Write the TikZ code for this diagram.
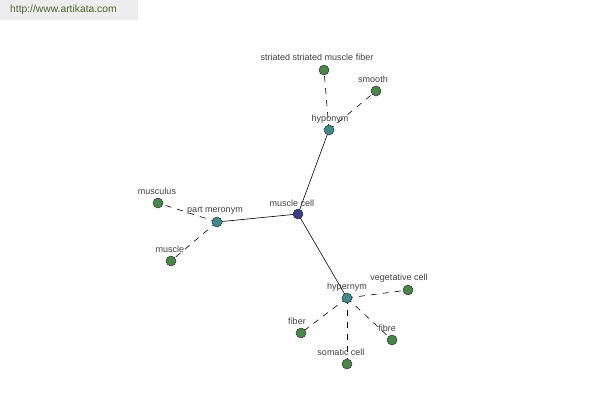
\documentclass[tikz,border=0pt]{standalone}
\usepackage{fontspec}
\setmainfont{Liberation Sans}
\definecolor{wmcol}{RGB}{80,100,45}
\definecolor{leafcol}{RGB}{72,135,72}
\definecolor{midcol}{RGB}{60,140,140}
\definecolor{rootcol}{RGB}{55,60,140}
\begin{document}
\begin{tikzpicture}[x=1pt,y=-1pt,
  dot/.style={circle,draw=black!80,line width=0.5pt,minimum size=10pt,inner sep=0pt},
  leaf/.style={dot,fill=leafcol},
  mid/.style={dot,fill=midcol},
  root/.style={dot,fill=rootcol},
  lbl/.style={font=\fontsize{9}{10}\selectfont,text=black!75,inner sep=0pt},
  solid edge/.style={draw=black,line width=0.6pt},
  dash edge/.style={draw=black,line width=0.6pt,dash pattern=on 6pt off 6pt}]
\useasboundingbox (0,0) rectangle (600,400);
\fill[black!7] (0,0) rectangle (138,20);
\node[anchor=west,inner sep=0pt,font=\fontsize{10.3}{12}\selectfont,text=wmcol] (wm) at (10,10) {http://www.artikata.com};
% nodes
\coordinate (c) at (298,214);
\coordinate (hypo) at (329,130);
\coordinate (str) at (324,70);
\coordinate (smo) at (376,91);
\coordinate (pm) at (217,222);
\coordinate (mus) at (158,203);
\coordinate (mu) at (171,261);
\coordinate (hyper) at (347,298);
\coordinate (veg) at (408,290);
\coordinate (fib) at (301,333);
\coordinate (fbr) at (392,340);
\coordinate (som) at (347,364);
% edges
\draw[solid edge] (c) -- (hypo);
\draw[solid edge] (c) -- (pm);
\draw[solid edge] (c) -- (hyper);
\draw[dash edge] (hypo) -- (str);
\draw[dash edge] (hypo) -- (smo);
\draw[dash edge] (pm) -- (mus);
\draw[dash edge] (pm) -- (mu);
\draw[dash edge] (hyper) -- (veg);
\draw[dash edge] (hyper) -- (fib);
\draw[dash edge] (hyper) -- (fbr);
\draw[dash edge] (hyper) -- (som);
% dots
\node[root] (nc) at (c) {};
\node[mid] (nhypo) at (hypo) {};
\node[mid] (npm) at (pm) {};
\node[mid] (nhyper) at (hyper) {};
\node[leaf] (nstr) at (str) {};
\node[leaf] (nsmo) at (smo) {};
\node[leaf] (nmus) at (mus) {};
\node[leaf] (nmu) at (mu) {};
\node[leaf] (nveg) at (veg) {};
\node[leaf] (nfib) at (fib) {};
\node[leaf] (nfbr) at (fbr) {};
\node[leaf] (nsom) at (som) {};
% labels
\node[lbl] (lc) at (292,203) {muscle cell};
\node[lbl] (lhypo) at (330,119) {hyponym};
\node[lbl] (lstr) at (317,57) {striated striated muscle fiber};
\node[lbl] (lsmo) at (373,79) {smooth};
\node[lbl] (lpm) at (215,211) {part meronym};
\node[lbl] (lmus) at (157,191) {musculus};
\node[lbl] (lmu) at (170,249) {muscle};
\node[lbl] (lhyper) at (347,287) {hypernym};
\node[lbl] (lveg) at (399,278) {vegetative cell};
\node[lbl] (lfib) at (297,321) {fiber};
\node[lbl] (lfbr) at (387,328) {fibre};
\node[lbl] (lsom) at (341,352) {somatic cell};
\end{tikzpicture}
\end{document}
